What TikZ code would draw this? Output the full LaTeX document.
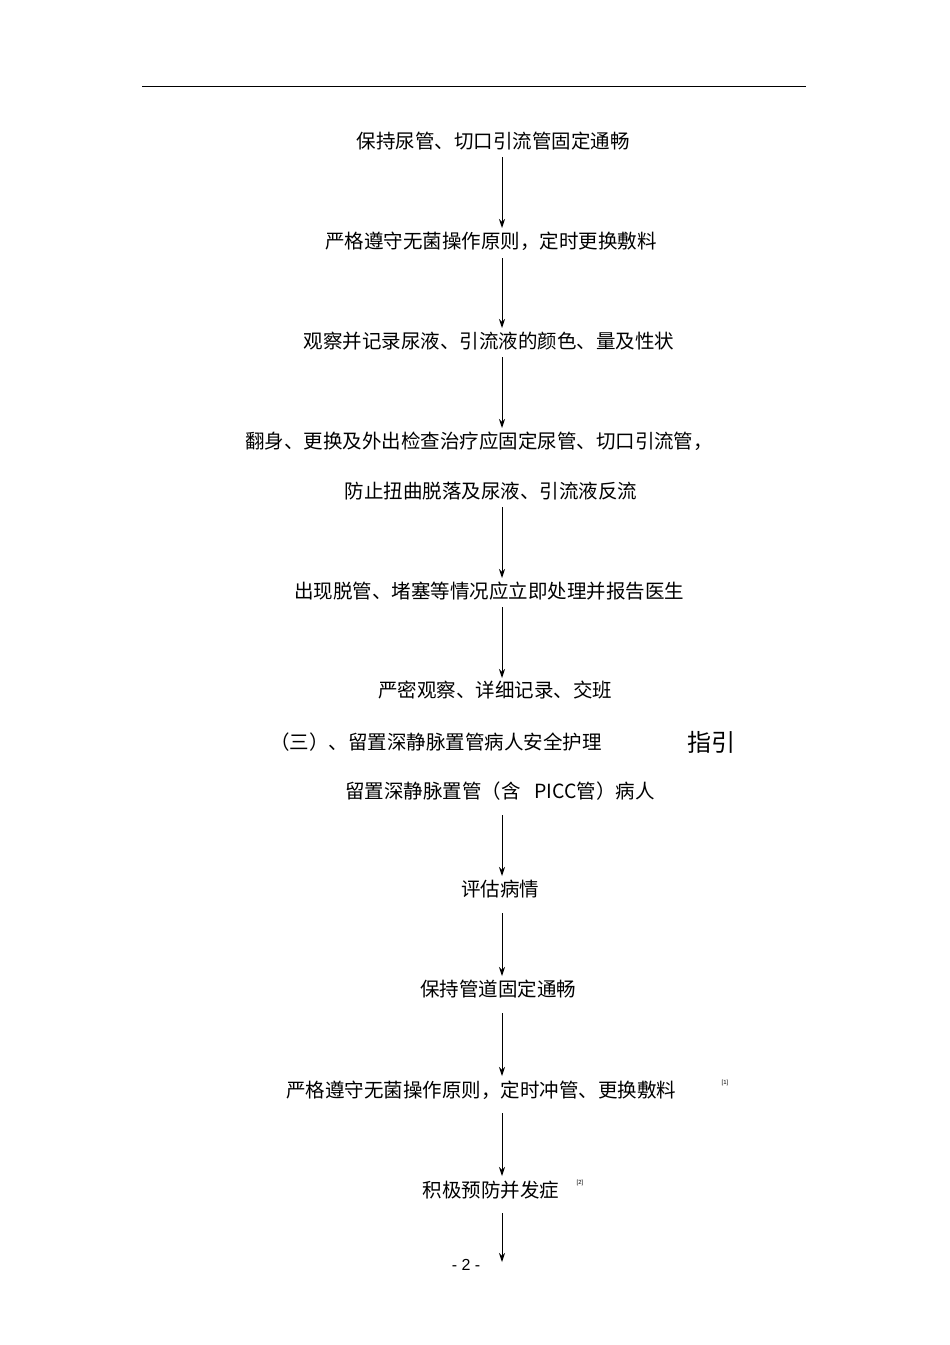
\documentclass[tikz,border=0pt]{standalone}
\usepackage{fontspec}
\usetikzlibrary{arrows.meta}
\setmainfont{Liberation Sans}
\newfontfamily\cjk{Noto Sans CJK SC}
\begin{document}
\begin{tikzpicture}[x=1pt,y=1pt,
  t/.style={font=\cjk\fontsize{19.5}{21}\selectfont,inner sep=0pt},
  arr/.style={-{Stealth[length=9pt,width=6pt]},line width=1pt}]
\useasboundingbox (0,0) rectangle (950,-1345);
\draw[line width=0.8pt] (142,-86) -- (806,-86);
\node[t] (a1) at (493,-141) {保持尿管、切口引流管固定通畅};
\node[t] (a2) at (491,-241) {严格遵守无菌操作原则，定时更换敷料};
\node[t] (a3) at (489,-341) {观察并记录尿液、引流液的颜色、量及性状};
\node[t] (a4) at (479,-441) {翻身、更换及外出检查治疗应固定尿管、切口引流管，};
\node[t] (a5) at (491,-491) {防止扭曲脱落及尿液、引流液反流};
\node[t] (a6) at (489,-591) {出现脱管、堵塞等情况应立即处理并报告医生};
\node[t] (a7) at (495,-690) {严密观察、详细记录、交班};
\node[t,anchor=west] (h1) at (270,-742) {（三）、留置深静脉置管病人安全护理};
\node[t,anchor=west,font=\cjk\fontsize{24}{26}\selectfont] (h2) at (687,-742) {指引};
\node[t] (b1) at (500,-791) {留置深静脉置管（含\hspace{14pt}PICC管）病人};
\node[t] (b2) at (500,-889) {评估病情};
\node[t] (b3) at (498,-989) {保持管道固定通畅};
\node[t] (b4) at (481,-1090) {严格遵守无菌操作原则，定时冲管、更换敷料};
\node[font=\fontsize{6}{7}\selectfont,inner sep=0pt] (s1) at (725,-1083) {[1]};
\node[t] (b5) at (491,-1190) {积极预防并发症};
\node[font=\fontsize{6}{7}\selectfont,inner sep=0pt] (s2) at (580,-1183) {[2]};
\node[font=\fontsize{16}{18}\selectfont,inner sep=0pt] (pg) at (466,-1265) {- 2 -};
\coordinate (e) at (502,-1262);
\foreach \u/\v in {157/228, 258/328, 357/428, 507/578, 607/678, 815/876, 913/976, 1013/1076, 1113/1176, 1213/1262}
  \draw[arr] (502,-\u) -- (502,-\v);
\end{tikzpicture}
\end{document}
